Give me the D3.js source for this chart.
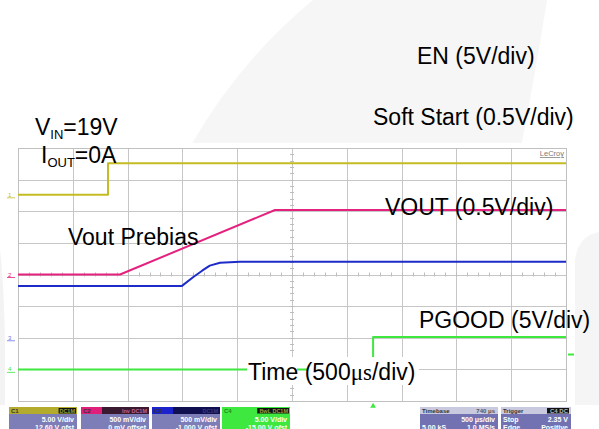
<!DOCTYPE html>
<html><head><meta charset="utf-8">
<script src="https://cdn.jsdelivr.net/npm/d3@7"></script>
<style>
html,body{margin:0;padding:0;background:#fff;}
svg{display:block;font-family:"Liberation Sans",Arial,sans-serif;}
</style></head>
<body><svg id="c" width="599" height="429"></svg>
<script>
// ---- Data (oscilloscope capture, time in µs from left edge of screen, volts per channel) ----
const channels = ["C1", "C2", "C3", "C4"];
const voltsPerDiv = [5, 0.5, 0.5, 5];
const offsetVolts = [12.6, 0, -1.0, -15];
const channelLabels = ["5.00 V/div", "500 mV/div", "500 mV/div", "5.00 V/div"];
const offsetLabels = ["12.60 V ofst", "0 mV offset", "-1.000 V ofst", "-15.00 V ofst"];
const couplingLabels = ["DC1M", "Inv DC1M", "DC1M", "BwL DC1M"];

const enTimeUs = [0, 821, 821, 5000];
const enVolts = [0, 0, 5.0, 5.0];
const voutTimeUs = [0, 931, 2345, 5000];
const voutVolts = [0, 0, 1.02, 1.02];
const ssTimeUs = [0, 1496, 1600, 1680, 1750, 1843, 2026, 5000];
const ssVolts = [0.82, 0.82, 0.96, 1.06, 1.14, 1.185, 1.20, 1.20];
const pgTimeUs = [0, 3240, 3240, 5000];
const pgVolts = [0, 0, 5.1, 5.1];
const triggerTimeUs = 3240;
const triggerLevelV = 2.35;
const timePerDivUs = 500;
const hDivs = 10, vDivs = 8;

// ---- styles ----
const traceColors = ["#c4bc22", "#e5217e", "#1d2bc9", "#3ee83e"];
const svg = d3.select("#c");

// background watermark
svg.append("rect").attr("width", 599).attr("height", 429).attr("fill", "#fff");
svg.append("path").attr("d", "M313,0 L547,0 Q536,70 521,147 L190,147 Q238,62 313,0 Z").attr("fill", "#f6f6f6");
svg.append("path").attr("d", "M599,232 Q578,236 575,260 L575,405 L599,405 Z").attr("fill", "#f5f5f5");
svg.append("path").attr("d", "M0,250 Q6,300 5,405 L0,405 Z").attr("fill", "#f3f3f3");
// scope screen
svg.append("rect").attr("x", 5).attr("y", 143).attr("width", 570).attr("height", 290).attr("fill", "#fff");

const x = d3.scaleLinear().domain([0, hDivs * timePerDivUs]).range([18, 566]);
const y = d3.scaleLinear().domain([-vDivs / 2, vDivs / 2]).range([401, 148]);
const toDiv = (v, ch) => (v + offsetVolts[ch]) / voltsPerDiv[ch];

// grid
const gridX = d3.range(0, hDivs + 1).map(i => i * timePerDivUs);
const gridY = d3.range(-vDivs / 2, vDivs / 2 + 1);
const grid = svg.append("g");
gridX.forEach(d => {
  grid.append("line").attr("x1", Math.round(x(d)) + 0.5).attr("x2", Math.round(x(d)) + 0.5)
    .attr("y1", y(4)).attr("y2", y(-4)).attr("stroke", "#c6c6c6").attr("stroke-width", 1);
});
gridY.forEach(d => {
  grid.append("line").attr("y1", Math.round(y(d)) + 0.5).attr("y2", Math.round(y(d)) + 0.5)
    .attr("x1", x(0)).attr("x2", x(5000)).attr("stroke", "#c6c6c6").attr("stroke-width", 1);
});
// center minor ticks
const minorX = d3.range(0, hDivs * 5 + 1).map(i => i * timePerDivUs / 5);
svg.append("g").attr("stroke", "#bdbdbd").selectAll("line").data(minorX).join("line")
  .attr("x1", d => Math.round(x(d)) + 0.5).attr("x2", d => Math.round(x(d)) + 0.5).attr("y1", y(0) - 2).attr("y2", y(0) + 2);
const minorY = d3.range(0, vDivs * 5 + 1).map(i => -vDivs / 2 + i / 5);
svg.append("g").attr("stroke", "#bdbdbd").selectAll("line").data(minorY).join("line")
  .attr("y1", d => Math.round(y(d)) + 0.5).attr("y2", d => Math.round(y(d)) + 0.5).attr("x1", x(2500) - 2).attr("x2", x(2500) + 2);
svg.append("rect").attr("x", 18.5).attr("y", 148.5).attr("width", 548).attr("height", 253)
  .attr("fill", "none").attr("stroke", "#c0c0c0");

// LeCroy
svg.append("text").attr("x", 564).attr("y", 156).attr("text-anchor", "end")
  .attr("font-size", 7.5).attr("fill", "#7a7a7a").attr("text-decoration", "underline").text("LeCroy");

// traces
const traces = [
  {t: enTimeUs, v: enVolts, ch: 0},
  {t: voutTimeUs, v: voutVolts, ch: 1},
  {t: ssTimeUs, v: ssVolts, ch: 2},
  {t: pgTimeUs, v: pgVolts, ch: 3}
];
const line = d3.line().x(d => x(d[0])).y(d => y(d[1]));
traces.forEach(tr => {
  const pts = tr.t.map((t, i) => [t, toDiv(tr.v[i], tr.ch)]);
  svg.append("path").attr("d", line(pts)).attr("fill", "none")
    .attr("stroke", traceColors[tr.ch]).attr("stroke-width", 2).attr("stroke-linejoin", "round");
});

// channel ground markers
channels.forEach((c, i) => {
  const yy = y(toDiv(0, i));
  const col = i === 2 ? "#6a78e8" : traceColors[i];
  svg.append("text").attr("x", 8).attr("y", yy + 2).attr("font-size", 6).attr("fill", col).text(c.slice(1));
  svg.append("line").attr("x1", 7).attr("x2", 15).attr("y1", yy + 3).attr("y2", yy + 3)
    .attr("stroke", col).attr("stroke-width", 0.8);
});
// trigger markers
svg.append("path").attr("d", d3.symbol(d3.symbolTriangle, 14)())
  .attr("transform", `translate(${x(triggerTimeUs)},406)`).attr("fill", traceColors[3]);
svg.append("line").attr("x1", 568).attr("x2", 574)
  .attr("y1", y(toDiv(triggerLevelV, 3))).attr("y2", y(toDiv(triggerLevelV, 3)))
  .attr("stroke", traceColors[3]).attr("stroke-width", 2);

// annotations
svg.append("rect").attr("x", 247).attr("y", 357).attr("width", 50).attr("height", 28).attr("fill", "#fff");
svg.append("rect").attr("x", 307).attr("y", 357).attr("width", 112).attr("height", 28).attr("fill", "#fff");
const ann = svg.append("g").attr("font-size", 23).attr("fill", "#000");
ann.append("text").attr("x", 417).attr("y", 64).text("EN (5V/div)");
ann.append("text").attr("x", 373).attr("y", 125).text("Soft Start (0.5V/div)");
ann.append("text").attr("x", 385).attr("y", 215).text("VOUT (0.5V/div)");
ann.append("text").attr("x", 68).attr("y", 245).text("Vout Prebias");
ann.append("text").attr("x", 419).attr("y", 328).text("PGOOD (5V/div)");
const vin = ann.append("text").attr("x", 35).attr("y", 135);
vin.append("tspan").text("V");
vin.append("tspan").attr("font-size", 13).attr("dy", 4).text("IN");
vin.append("tspan").attr("dy", -4).text("=19V");
const iout = ann.append("text").attr("x", 41).attr("y", 163);
iout.append("tspan").text("I");
iout.append("tspan").attr("font-size", 13).attr("dy", 4).text("OUT");
iout.append("tspan").attr("dy", -4).text("=0A");
const tl = ann.append("text").attr("x", 248).attr("y", 380);
tl.append("tspan").text("Time (500");
tl.append("tspan").attr("font-family", "Liberation Serif").text("μs");
tl.append("tspan").text("/div)");

// bottom info boxes
const boxX = [9, 81, 152, 222];
const boxW = 68;
const headColors = ["#b3ab2c", "#e01f7a", "#1c22cc", "#3ee83e"];
const headDark = ["#b3ab2c", "#3a1a30", "#101050", "#3ee83e"];
const bodyColors = ["#7d7db8", "#7d7db8", "#7d7db8", "#3ee83e"];
const info = svg.append("g").attr("font-size", 7).attr("font-weight", "bold");
channels.forEach((c, i) => {
  const bx = boxX[i];
  info.append("rect").attr("x", bx).attr("y", 407).attr("width", boxW).attr("height", 25)
    .attr("rx", 1.5).attr("fill", bodyColors[i]);
  info.append("rect").attr("x", bx).attr("y", 407).attr("width", boxW).attr("height", 7).attr("fill", headDark[i]);
  info.append("rect").attr("x", bx).attr("y", 407).attr("width", 21).attr("height", 7).attr("fill", headColors[i]);
  const lblW = couplingLabels[i].length * 3.6 + 3;
  if (i === 0 || i === 3)
    info.append("rect").attr("x", bx + boxW - lblW - 1).attr("y", 408).attr("width", lblW).attr("height", 5.5).attr("fill", "#111");
  info.append("text").attr("x", bx + boxW - 2).attr("y", 413).attr("text-anchor", "end").attr("font-size", 5.5)
    .attr("fill", i === 2 ? "#3a3a80" : (i === 1 ? "#c06090" : "#9aa040")).text(couplingLabels[i]);
  info.append("text").attr("x", bx + 2).attr("y", 413).attr("font-size", 6)
    .attr("fill", i === 3 ? "#228822" : "#333").text(c);
  info.append("text").attr("x", bx + boxW - 3).attr("y", 421.5).attr("text-anchor", "end").attr("fill", "#fff").text(channelLabels[i]);
  info.append("text").attr("x", bx + boxW - 3).attr("y", 429.5).attr("text-anchor", "end").attr("fill", "#fff").text(offsetLabels[i]);
});
// timebase & trigger
const rb = [{x: 420, w: 78, h1: "Timebase", h2: "740 μs", r1: ["", "500 μs/div"], r2: ["5.00 kS", "1.0 MS/s"]},
            {x: 501, w: 70, h1: "Trigger", h2: "C4 DC", r1: ["Stop", "2.35 V"], r2: ["Edge", "Positive"]}];
rb.forEach((b, i) => {
  info.append("rect").attr("x", b.x).attr("y", 407).attr("width", b.w).attr("height", 25).attr("rx", 1.5).attr("fill", "#7272b2");
  info.append("rect").attr("x", b.x).attr("y", 407).attr("width", b.w).attr("height", 7).attr("fill", "#c9c9e0");
  if (i === 1) info.append("rect").attr("x", b.x + b.w - 24).attr("y", 408).attr("width", 22).attr("height", 5.5).attr("fill", "#111");
  info.append("text").attr("x", b.x + 2).attr("y", 413.3).attr("font-size", 6).attr("fill", "#333").text(b.h1);
  info.append("text").attr("x", b.x + b.w - 3).attr("y", 413.3).attr("font-size", 6).attr("text-anchor", "end")
    .attr("fill", i === 1 ? "#bbb" : "#555").text(b.h2);
  info.append("text").attr("x", b.x + 2).attr("y", 421.5).attr("fill", "#fff").text(b.r1[0]);
  info.append("text").attr("x", b.x + b.w - 3).attr("y", 421.5).attr("text-anchor", "end").attr("fill", "#fff").text(b.r1[1]);
  info.append("text").attr("x", b.x + 2).attr("y", 429.5).attr("fill", "#fff").text(b.r2[0]);
  info.append("text").attr("x", b.x + b.w - 3).attr("y", 429.5).attr("text-anchor", "end").attr("fill", "#fff").text(b.r2[1]);
});
</script></body></html>
